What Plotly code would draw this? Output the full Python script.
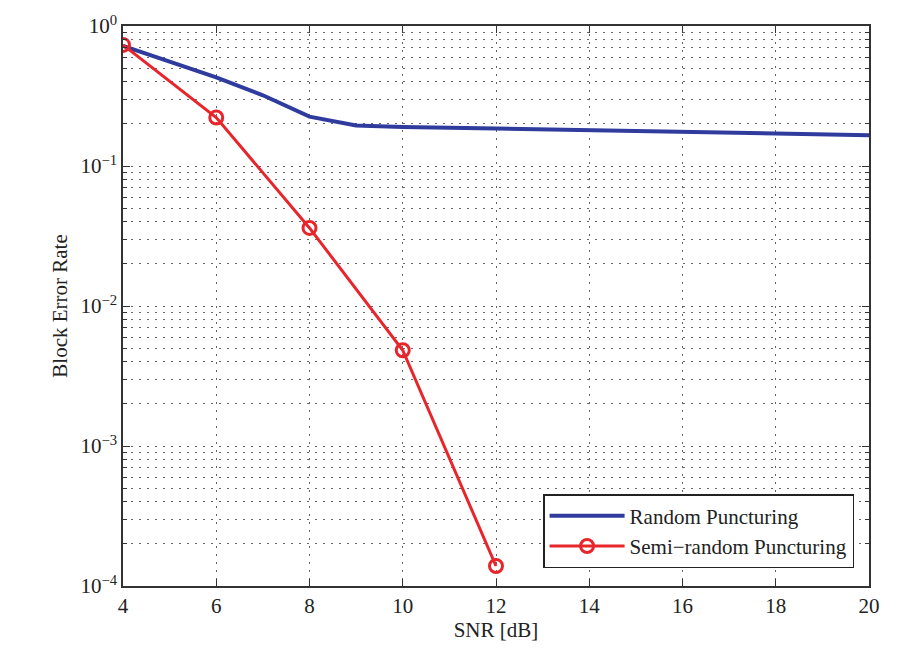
import plotly.graph_objects as go

snr_random = [4, 5, 6, 7, 8, 9, 10, 12, 14, 16, 18, 20]
bler_random = [0.72, 0.56, 0.43, 0.32, 0.225, 0.195, 0.19, 0.185, 0.18, 0.177, 0.172, 0.166]

snr_semi = [4, 6, 8, 10, 12]
bler_semi = [0.733, 0.222, 0.0361, 0.00483, 0.000139]

x_ticks = [4, 6, 8, 10, 12, 14, 16, 18, 20]
y_tickvals = [1, 0.1, 0.01, 0.001, 0.0001]
y_ticktext = ["10<sup>0</sup>", "10<sup>−1</sup>", "10<sup>−2</sup>", "10<sup>−3</sup>", "10<sup>−4</sup>"]
y_minor = [m * 10.0 ** e for e in range(-4, 0) for m in range(2, 10)]

font = "Liberation Serif, Times New Roman, serif"
txt = "#222"
fig = go.Figure()
fig.add_trace(go.Scatter(x=snr_random, y=bler_random, mode="lines", name="Random Puncturing",
                         line=dict(color="#2f3c9e", width=4)))
fig.add_trace(go.Scatter(x=snr_semi, y=bler_semi, mode="lines+markers", name="Semi−random Puncturing",
                         line=dict(color="#e8252b", width=3),
                         marker=dict(symbol="circle-open", size=13, color="#e8252b", line=dict(width=3))))

dash = "2px,6px"
fig.update_xaxes(range=[4, 20], tickvals=x_ticks, ticks="inside", ticklen=7, tickcolor="#333",
                 showline=True, linecolor="#333", linewidth=1.5, mirror="ticks",
                 title=dict(text="SNR [dB]", font=dict(family=font, size=21, color=txt), standoff=1),
                 tickfont=dict(family=font, size=21, color=txt), zeroline=False,
                 showgrid=True, gridcolor="#666", griddash=dash, gridwidth=1.3)
fig.update_yaxes(type="log", range=[-4, 0], tickvals=y_tickvals, ticktext=y_ticktext,
                 ticks="inside", ticklen=7, tickcolor="#333",
                 showline=True, linecolor="#333", linewidth=1.5, mirror="ticks",
                 title=dict(text="Block Error Rate", font=dict(family=font, size=21, color=txt), standoff=7),
                 tickfont=dict(family=font, size=21, color=txt), zeroline=False,
                 showgrid=True, gridcolor="#666", griddash=dash, gridwidth=1.3,
                 minor=dict(tickvals=y_minor, ticks="inside", ticklen=4, tickcolor="#333", showgrid=True,
                            gridcolor="#666", griddash=dash, gridwidth=1.3))

fig.update_layout(width=912, height=662, margin=dict(l=123, r=43, t=23, b=76),
                  plot_bgcolor="white", paper_bgcolor="white",
                  legend=dict(x=0.98, y=0.032, xanchor="right", yanchor="bottom",
                              bgcolor="white", bordercolor="#222", borderwidth=1.5,
                              font=dict(family=font, size=21, color=txt),
                              itemwidth=75, tracegroupgap=2))
fig.write_html("out.html")
